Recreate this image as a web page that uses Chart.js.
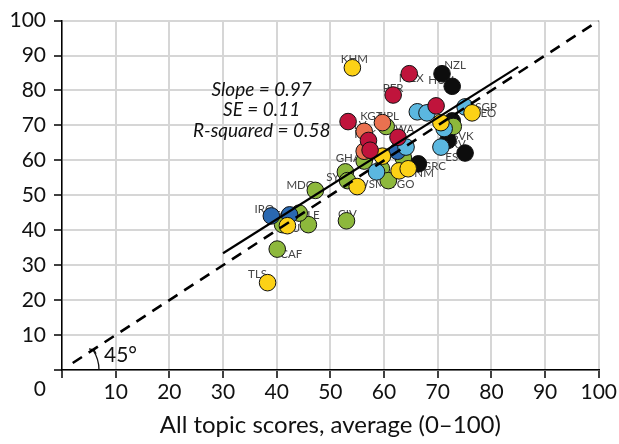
<!DOCTYPE html>
<html>
<head>
<meta charset="utf-8">
<script src="https://cdn.jsdelivr.net/npm/chart.js@4.4.1/dist/chart.umd.min.js"></script>
<style>
  html, body { margin: 0; padding: 0; background: #fff; }
  #wrap { width: 619px; height: 444px; }
</style>
</head>
<body>
<div id="wrap"><canvas id="scatter-chart"></canvas></div>
<script>
// Country points, one array per colour group: [x, y, label]
const redPoints = [
  [64.7, 84.8, 'MEX'], [61.7, 78.7, 'PER'], [53.3, 71.1, 'SLV'], [69.7, 75.6, ''],
  [62.6, 66.6, 'BWA'], [57.1, 65.7, ''], [57.4, 62.9, '']
];
const orangePoints = [
  [59.7, 70.8, 'KGZ'], [56.3, 68.3, 'PAK'], [56.3, 62.6, '']
];
const yellowPoints = [
  [54.1, 86.5, 'KHM'], [38.3, 25.0, 'TLS'], [55.0, 52.5, 'WSM'], [42.0, 41.3, 'VUT'],
  [76.4, 73.6, 'GEO'], [70.6, 70.8, ''], [59.7, 61.2, ''], [62.8, 57.0, ''], [64.5, 57.6, 'VNM']
];
const lightBluePoints = [
  [66.2, 73.9, 'CZE'], [68.0, 73.6, ''], [75.1, 75.3, 'SGP'], [71.2, 69.1, ''],
  [70.6, 63.8, 'HRV'], [64.1, 63.8, ''], [58.6, 56.7, '']
];
const darkBluePoints = [
  [39.0, 44.1, 'IRQ'], [42.4, 44.4, 'TCD'], [62.5, 62.6, '']
];
const greenPoints = [
  [47.2, 51.4, 'MDG'], [53.0, 42.7, 'CIV'], [40.1, 34.6, 'CAF'], [45.9, 41.6, 'SLE'],
  [41.1, 41.6, ''], [44.2, 44.9, ''], [60.4, 69.7, 'NPL'], [72.9, 69.7, ''],
  [63.6, 60.7, ''], [56.3, 59.8, 'GHA'], [59.5, 57.6, ''], [60.8, 54.2, 'TGO'],
  [52.8, 56.7, 'SYR'], [53.2, 54.2, '']
];
const blackPoints = [
  [70.8, 84.8, 'NZL'], [72.7, 81.2, 'HUN'], [72.7, 71.3, ''], [71.9, 65.7, 'SVK'],
  [75.1, 62.1, 'EST'], [66.4, 59.0, 'GRC']
];

// Regression fit and 45-degree reference
const fitSlope = 0.97;
const fitIntercept = 4.3;
const fitSE = 0.11;
const fitRSquared = 0.58;
const fitRange = [30, 85];
const diagonalRange = [2, 100];
const axisRange = [0, 100];

// Label placement relative to the marker, in pixels
const labelOffsets = {
  KHM: [2, -8], MEX: [2, 5], NZL: [13, -8], HUN: [-11, -6], PER: [0, -7],
  CZE: [4, 0], SGP: [21, 0], GEO: [12, 0], KGZ: [-11, -6], NPL: [2, -10],
  SLV: [9, 4], PAK: [1, 3], BWA: [3, -8], GHA: [-16, -3], SYR: [-9, 5],
  WSM: [14, -2], TGO: [14, 4], VNM: [12, 5], GRC: [16, 2], EST: [-10, 4],
  HRV: [13, -3], SVK: [15, -4], MDG: [-15, -5], IRQ: [-7, -7], TCD: [-5, 0],
  SLE: [2, -9], VUT: [8, 3], CIV: [1, -7], CAF: [14, 5], TLS: [-10, -8]
};

const groups = [
  { points: redPoints, color: '#c0143c' },
  { points: orangePoints, color: '#ea7150' },
  { points: yellowPoints, color: '#fcd116' },
  { points: lightBluePoints, color: '#5bb7df' },
  { points: darkBluePoints, color: '#2a68b0' },
  { points: greenPoints, color: '#8db83c' },
  { points: blackPoints, color: '#0d0d0d' }
];

const FONT = 'Lato, "Open Sans", sans-serif';

function toXY(list) {
  return list.map(p => ({ x: p[0], y: p[1] }));
}

// Draws country labels, the fit statistics, the 45° angle and the corner zero
const overlayPlugin = {
  id: 'overlay',
  beforeDatasetsDraw(chart) {
    const ctx = chart.ctx;
    const xs = chart.scales.x;
    const ys = chart.scales.y;
    ctx.save();

    // country codes sit under the markers
    ctx.font = '11.5px ' + FONT;
    ctx.fillStyle = '#444';
    ctx.textAlign = 'center';
    ctx.textBaseline = 'middle';
    groups.forEach(function(g) {
      g.points.forEach(function(p) {
        if (!p[2]) return;
        const off = labelOffsets[p[2]] || [0, -10];
        ctx.fillText(p[2], xs.getPixelForValue(p[0]) + off[0], ys.getPixelForValue(p[1]) + off[1]);
      });
    });

    // fit statistics
    ctx.font = 'italic 19px ' + FONT;
    ctx.fillStyle = '#111';
    const sx = xs.getPixelForValue(37.2);
    const sy = ys.getPixelForValue(80.2);
    ctx.fillText('Slope = ' + fitSlope.toFixed(2), sx, sy);
    ctx.fillText('SE = ' + fitSE.toFixed(2), sx, sy + 20);
    ctx.fillText('R-squared = ' + fitRSquared.toFixed(2), sx, sy + 41);

    // 45 degree angle marker
    const ox = xs.getPixelForValue(0);
    const oy = ys.getPixelForValue(0);
    const ang = Math.atan2(oy - ys.getPixelForValue(100), xs.getPixelForValue(100) - ox);
    const r = 37;
    ctx.strokeStyle = '#111';
    ctx.lineWidth = 1.3;
    ctx.beginPath();
    ctx.arc(ox, oy, r, -ang, 0);
    ctx.stroke();
    const ex = ox + r * Math.cos(ang);
    const ey = oy - r * Math.sin(ang);
    ctx.beginPath();
    ctx.moveTo(ex - 4, ey - 1);
    ctx.lineTo(ex + 1, ey);
    ctx.lineTo(ex + 3, ey + 4);
    ctx.stroke();
    ctx.font = '21px ' + FONT;
    ctx.textAlign = 'left';
    ctx.fillText('45°', ox + r + 5, oy - 15);

    ctx.restore();
  },
  afterDraw(chart) {
    const ctx = chart.ctx;
    const xs = chart.scales.x;
    const ys = chart.scales.y;
    ctx.save();
    ctx.font = '21px ' + FONT;
    ctx.fillStyle = '#111';
    ctx.textAlign = 'right';
    ctx.textBaseline = 'middle';
    ctx.fillText('0', ys.right - 16, xs.top + 19);
    ctx.restore();
  }
};

const datasets = [
  {
    label: 'Fit',
    data: fitRange.map(x => ({ x: x, y: fitIntercept + fitSlope * x })),
    showLine: true,
    borderColor: '#000',
    borderWidth: 2.2,
    pointRadius: 0
  },
  {
    label: '45 degree',
    data: diagonalRange.map(x => ({ x: x, y: x })),
    showLine: true,
    borderColor: '#000',
    borderWidth: 2.6,
    borderDash: [11, 8],
    pointRadius: 0
  }
];
groups.forEach(function(g) {
  datasets.push({
    data: toXY(g.points),
    backgroundColor: g.color,
    borderColor: '#111',
    borderWidth: 1,
    pointRadius: 8.3
  });
});

const tickFont = { family: FONT, size: 21 };

new Chart(document.getElementById('scatter-chart'), {
  type: 'scatter',
  data: { datasets: datasets },
  options: {
    responsive: true,
    maintainAspectRatio: false,
    animation: false,
    layout: { padding: { top: 14, right: 19, left: 0, bottom: 0 } },
    plugins: {
      legend: { display: false },
      tooltip: { enabled: false }
    },
    scales: {
      x: {
        min: axisRange[0],
        max: axisRange[1],
        ticks: {
          stepSize: 10,
          color: '#111',
          font: tickFont,
          padding: 2,
          maxRotation: 0,
          callback: v => (v === 0 ? '' : v)
        },
        grid: { color: '#d6d6d6', lineWidth: 2, tickColor: '#000', tickLength: 8, tickWidth: 1.5 },
        border: { color: '#000', width: 1.5 },
        title: {
          display: true,
          text: 'All topic scores, average (0–100)',
          color: '#111',
          font: { family: FONT, size: 24 },
          padding: { top: 0 }
        },
        afterFit: function(scale) { scale.height = 74; }
      },
      y: {
        min: axisRange[0],
        max: axisRange[1],
        ticks: {
          stepSize: 10,
          color: '#111',
          font: tickFont,
          padding: 8,
          callback: v => (v === 0 ? '' : v)
        },
        grid: { color: '#d6d6d6', lineWidth: 2, tickColor: '#000', tickLength: 8, tickWidth: 1.5 },
        border: { color: '#000', width: 1.5 },
        afterFit: function(scale) { scale.width = 62; }
      }
    }
  },
  plugins: [overlayPlugin]
});
</script>
</body>
</html>
